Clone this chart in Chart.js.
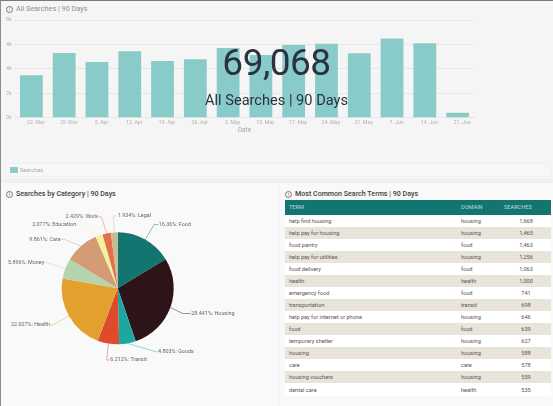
<!DOCTYPE html>
<html>
<head>
<meta charset="utf-8">
<script src="https://cdn.jsdelivr.net/npm/chart.js@4"></script>
<style>
    html, body { margin: 0; padding: 0; background: #f5f5f5; }
    body { width: 553px; height: 406px; position: relative; overflow: hidden; font-family: Roboto, sans-serif; }
    .abs { position: absolute; }
    #topLine { left: 0; top: 0; width: 553px; height: 1px; background: #77797b; }
    #leftLine { left: 0; top: 0; width: 1px; height: 406px; background: #8a8c8e; }
    #panelLeft { left: 1px; top: 183px; width: 277px; height: 223px; background: #f9f9f9; }
    #panelRight { left: 280px; top: 183px; width: 273px; height: 223px; background: #f9f9f9; }
    #stripe { left: 0; top: 179px; width: 553px; height: 4px; background: #eef1f0; }
    .title { font-size: 7.1px; white-space: nowrap; color: #3b3f44; font-weight: 500; }
    .title i { font-style: normal; font-weight: 400; display: inline-block; width: 5px; height: 5px; line-height: 5px; margin-right: 3px; border: 0.6px solid #777; border-radius: 50%; font-size: 4.5px; text-align: center; vertical-align: 0.5px; }
    #legendBox { left: 5px; top: 163px; width: 546px; height: 14px; background: #f7f7f7; border: 1px solid #efefef; box-sizing: border-box; }
    #legendSwatch { left: 10px; top: 167px; width: 8px; height: 6px; background: #89cbc9; }
    #legendText { left: 20px; top: 166px; font-size: 5.6px; line-height: 8px; color: #a9abad; }
    #kpiValue { left: 176.5px; width: 200px; top: 39px; text-align: center; font-size: 37px; letter-spacing: -0.5px; line-height: 48px; color: #2b3140; }
    #kpiLabel { left: 176.5px; width: 200px; top: 90px; text-align: center; font-size: 14.6px; line-height: 20px; color: #2b3140; }
    #terms { left: 285px; top: 200px; width: 266px; border-collapse: collapse; table-layout: fixed; font-size: 5.6px; color: #5a5256; }
    #terms th { height: 14.6px; padding: 0; background: #137570; color: #b9dcd9; font-weight: 400; text-align: left; }
    #terms td { height: 12.07px; padding: 0; background: #ffffff; white-space: nowrap; }
    #terms tbody tr:nth-child(even) td { background: #e9e4da; }
    #terms .term { padding-left: 4px; width: 172px; }
    #terms .domain { width: 43px; }
    #terms td.count { text-align: center; padding-right: 3px; }
</style>
</head>
<body>
<div class="abs" id="topLine"></div>
<div class="abs" id="stripe"></div>
<div class="abs" id="panelLeft"></div>
<div class="abs" id="panelRight"></div>
<div class="abs" id="leftLine"></div>

<div class="abs title" style="left:6px;top:4px;color:#8f9193;font-weight:400;font-size:7.3px"><i>i</i>All Searches | 90 Days</div>
<canvas class="abs" id="weeklyChart" width="480" height="124" style="left:0;top:10px"></canvas>
<div class="abs" id="legendBox"></div>
<div class="abs" id="legendSwatch"></div>
<div class="abs" id="legendText"></div>
<div class="abs" id="kpiValue"></div>
<div class="abs" id="kpiLabel"></div>

<div class="abs title" style="left:6px;top:189px"><i>i</i>Searches by Category | 90 Days</div>
<canvas class="abs" id="categoryChart" width="278" height="200" style="left:0;top:200px"></canvas>

<div class="abs title" style="left:285px;top:189px"><i>i</i>Most Common Search Terms | 90 Days</div>
<table class="abs" id="terms"><thead><tr id="termsHead"></tr></thead><tbody id="termsBody"></tbody></table>

<script>
// ---------------- Data ----------------
const weeks = ["22. Mar", "29. Mar", "5. Apr", "12. Apr", "19. Apr", "26. Apr", "3. May", "10. May", "17. May", "24. May", "31. May", "7. Jun", "14. Jun", "21. Jun"];
const weeklySearches = [3475, 5300, 4565, 5440, 4650, 4785, 5710, 5140, 5960, 6065, 5280, 6475, 6095, 410];
const yTicks = { 0: "0k", 2000: "2k", 4000: "4k", 6000: "4k", 8000: "8k" };

const kpiTotal = "69,068";
const kpiCaption = "All Searches | 90 Days";
const seriesName = "Searches";

const categories = ["Food", "Housing", "Goods", "Transit", "Health", "Money", "Care", "Education", "Work", "Legal"];
const categoryShares = [16.36, 28.441, 4.803, 6.212, 22.027, 5.896, 9.861, 2.077, 2.429, 1.934];
const categoryColors = ["#137570", "#2c1418", "#1ca8a1", "#de4a2b", "#e3a02d", "#b4d4ae", "#d39c76", "#f3f0a0", "#e0714b", "#c9b994"];
// leader line per category: elbow dx, dy from the slice edge, then signed horizontal run
const leaderOffsets = [[9, -15, 4], [12.5, 6, 8], [29, 8.5, 1], [-1.5, 16.5, 3], [-15.6, 9, -3], [-18.6, -5.7, -2], [-17, -6.7, -3], [-19.4, -10.4, -3], [-5.3, -16.6, -3], [-1, -16.5, 4]];

const termHeaders = ["TERM", "DOMAIN", "SEARCHES"];
const terms = ["help find housing", "help pay for housing", "food pantry", "help pay for utilities", "food delivery", "health", "emergency food", "transportation", "help pay for internet or phone", "food", "temporary shelter", "housing", "care", "housing vouchers", "dental care"];
const domains = ["housing", "housing", "food", "housing", "food", "health", "food", "transit", "housing", "food", "housing", "housing", "care", "housing", "health"];
const termCounts = ["1,668", "1,465", "1,463", "1,256", "1,063", "1,000", "741", "698", "646", "639", "627", "588", "578", "559", "535"];

// ---------------- Text + table ----------------
document.getElementById("kpiValue").textContent = kpiTotal;
document.getElementById("kpiLabel").textContent = kpiCaption;
document.getElementById("legendText").textContent = seriesName;

document.getElementById("termsHead").innerHTML =
    `<th class="term">${termHeaders[0]}</th><th class="domain">${termHeaders[1]}</th><th>${termHeaders[2]}</th>`;

let rows = "";
terms.forEach(function(term, index) {
    rows += `
        <tr>
            <td class="term">${term}</td>
            <td class="domain">${domains[index]}</td>
            <td class="count">${termCounts[index]}</td>
        </tr>`;
});
document.getElementById("termsBody").innerHTML = rows;

// ---------------- Weekly bars ----------------
Chart.defaults.font.family = "Roboto, sans-serif";

new Chart(document.getElementById("weeklyChart"), {
    type: "bar",
    data: {
        labels: weeks,
        datasets: [{
            label: seriesName,
            data: weeklySearches,
            backgroundColor: "#89cbc9",
            barPercentage: 0.695,
            categoryPercentage: 1,
        }],
    },
    options: {
        responsive: false,
        animation: false,
        layout: { padding: { left: 15, right: 6, top: 10, bottom: 0 } },
        plugins: { legend: { display: false }, tooltip: { enabled: false } },
        scales: {
            x: {
                afterFit: function(scale) { scale.height = 16.3; },
                grid: { display: false, drawTicks: false },
                border: { color: "#e6e6e6", width: 1 },
                ticks: { color: "#b0b2b4", font: { size: 5.2 }, maxRotation: 0, autoSkip: false, labelOffset: 4.5, padding: 2 },
                title: { display: true, text: "Date", color: "#a2a4a6", font: { size: 6.4 }, padding: { top: 0, bottom: 0 } },
            },
            y: {
                min: 0,
                max: 8000,
                position: "left",
                afterFit: function(scale) { scale.width = 0; },
                grid: { color: "#e6e6e6", lineWidth: 1, drawTicks: false },
                border: { display: false },
                ticks: {
                    stepSize: 2000,
                    mirror: true,
                    color: "#b0b2b4",
                    font: { size: 5.2 },
                    padding: -9,
                    callback: function(value) { return yTicks[value]; },
                },
            },
        },
    },
});

// ---------------- Category pie ----------------
const leaderLabels = {
    id: "leaderLabels",
    afterDatasetsDraw: function(chart) {
        const ctx = chart.ctx;
        chart.getDatasetMeta(0).data.forEach(function(arc, index) {
            const p = arc.getProps(["x", "y", "startAngle", "endAngle", "outerRadius"], true);
            const mid = (p.startAngle + p.endAngle) / 2;
            const edgeX = p.x + Math.cos(mid) * p.outerRadius;
            const edgeY = p.y + Math.sin(mid) * p.outerRadius;
            const elbowX = edgeX + leaderOffsets[index][0];
            const elbowY = edgeY + leaderOffsets[index][1];
            const run = leaderOffsets[index][2];
            const endX = elbowX + run;

            ctx.save();
            ctx.globalAlpha = 0.65;
            ctx.strokeStyle = categoryColors[index];
            ctx.lineWidth = 0.7;
            ctx.beginPath();
            ctx.moveTo(edgeX, edgeY);
            ctx.lineTo(elbowX, elbowY);
            ctx.lineTo(endX, elbowY);
            ctx.stroke();
            ctx.globalAlpha = 1;
            ctx.font = "5.4px Roboto, sans-serif";
            ctx.fillStyle = "#6a6468";
            ctx.textBaseline = "middle";
            ctx.textAlign = run > 0 ? "left" : "right";
            ctx.fillText(`${categoryShares[index]}%: ${categories[index]}`, endX + (run > 0 ? 0.5 : -0.5), elbowY);
            ctx.restore();
        });
    },
};

new Chart(document.getElementById("categoryChart"), {
    type: "pie",
    data: {
        labels: categories,
        datasets: [{
            data: categoryShares,
            backgroundColor: categoryColors,
            borderWidth: 0,
        }],
    },
    options: {
        responsive: false,
        animation: false,
        radius: 56,
        layout: { padding: { left: 0, right: 42.6, top: 0, bottom: 23.4 } },
        plugins: { legend: { display: false }, tooltip: { enabled: false } },
    },
    plugins: [leaderLabels],
});
</script>
</body>
</html>
